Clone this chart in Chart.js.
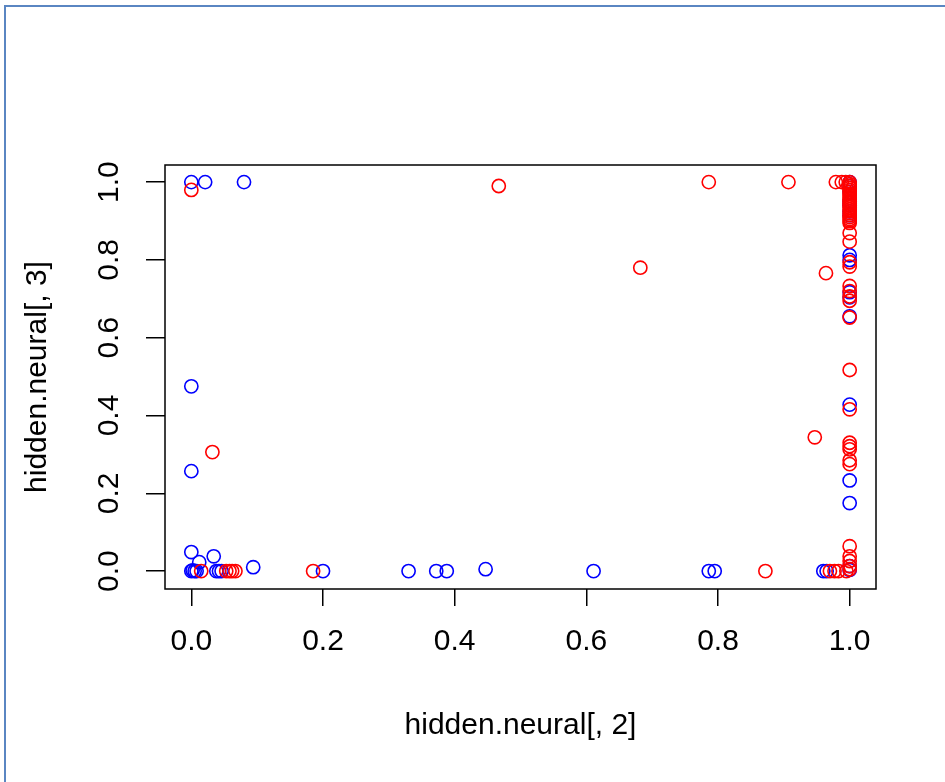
<!DOCTYPE html>
<html>
<head>
<meta charset="utf-8">
<script src="https://cdn.jsdelivr.net/npm/chart.js@4/dist/chart.umd.min.js"></script>
<style>
  body { margin: 0; background: #fff; }
  #frame { position: absolute; left: 4px; top: 5px; width: 945px; height: 782px;
           border-top: 2px solid #5a86c2; border-left: 2px solid #5a86c2; }
  #chart { position: absolute; left: 0; top: 0; }
</style>
</head>
<body>
<div id="frame"></div>
<canvas id="chart" width="945" height="782"></canvas>
<script>
// hidden.neural[, 2] vs hidden.neural[, 3], coloured by class
const tickVals = [0, 0.2, 0.4, 0.6, 0.8, 1.0];

const redX = [0.000, 0.015, 0.032, 0.053, 0.058, 0.062, 0.067, 0.185, 0.467, 0.682,
              0.786, 0.872, 0.907, 0.947, 0.964, 0.970, 0.977, 0.979, 0.983, 0.988,
              0.994, 0.995,
              1, 1, 1, 1, 1, 1, 1, 1, 1, 1, 1, 1, 1, 1, 1, 1, 1, 1, 1, 1, 1, 1,
              1, 1, 1, 1, 1, 1, 1, 1, 1, 1, 1, 1, 1, 1, 1, 1, 1, 1, 1, 1, 1];
const redY = [0.980, 0.000, 0.306, 0.000, 0.000, 0.000, 0.000, 0.000, 0.990, 0.780,
              1.000, 0.000, 1.000, 0.344, 0.766, 0.000, 0.000, 1.000, 0.000, 1.000,
              1.000, 0.000,
              1.000, 0.995, 0.990, 0.985, 0.980, 0.975, 0.970, 0.965, 0.960, 0.955,
              0.950, 0.945, 0.940, 0.935, 0.930, 0.925, 0.920, 0.915, 0.910, 0.905,
              0.900, 0.895, 0.869, 0.847, 0.794, 0.783, 0.733, 0.720, 0.706, 0.695,
              0.652, 0.517, 0.416, 0.330, 0.321, 0.313, 0.285, 0.275, 0.064, 0.038,
              0.026, 0.013, 0.005, 0.001, 0.000];

const blueX = [0.000, 0.021, 0.080, 0.000, 0.000, 0.000, 0.000, 0.002, 0.005, 0.008,
               0.012, 0.034, 0.038, 0.042, 0.046, 0.094, 0.200, 0.330, 0.372, 0.388,
               0.447, 0.611, 0.786, 0.795, 0.960, 0.965,
               1, 1, 1, 1, 1, 1, 1, 1, 1, 1, 1, 1, 1, 1, 1, 1, 1];
const blueY = [1.000, 1.000, 1.000, 0.475, 0.257, 0.049, 0.000, 0.002, 0.000, 0.000,
               0.023, 0.038, 0.000, 0.000, 0.000, 0.010, 0.000, 0.000, 0.000, 0.000,
               0.005, 0.000, 0.000, 0.000, 0.000, 0.000,
               1.000, 0.990, 0.975, 0.950, 0.940, 0.925, 0.915, 0.812, 0.800, 0.717,
               0.704, 0.655, 0.428, 0.233, 0.175, 0.013, 0.003];

const pts = (xs, ys) => xs.map((x, i) => ({x: x, y: ys[i]}));
const font = {family: '"Liberation Sans", Arial, sans-serif', size: 30};

// R draws a full box round the plot region
const boxPlugin = {
  id: 'box',
  afterDraw(chart) {
    const a = chart.chartArea, ctx = chart.ctx;
    ctx.save();
    ctx.strokeStyle = '#000';
    ctx.lineWidth = 1.5;
    ctx.strokeRect(a.left, a.top, a.right - a.left, a.bottom - a.top);
    ctx.restore();
  }
};

new Chart(document.getElementById('chart'), {
  type: 'scatter',
  data: {
    datasets: [
      {data: pts(redX, redY), borderColor: '#ff0000'},
      {data: pts(blueX, blueY), borderColor: '#0000ff'}
    ]
  },
  options: {
    responsive: false,
    animation: false,
    layout: {padding: {left: 0, top: 165, right: 69, bottom: 0}},
    elements: {point: {radius: 6.6, borderWidth: 1.6, backgroundColor: 'rgba(0,0,0,0)', pointStyle: 'circle'}},
    plugins: {legend: {display: false}, tooltip: {enabled: false}},
    scales: {
      x: {
        type: 'linear', min: -0.04, max: 1.04,
        afterBuildTicks: s => { s.ticks = tickVals.map(v => ({value: v})); },
        afterFit: s => { s.height = 193; },
        grid: {drawOnChartArea: false, drawTicks: true, tickLength: 17, color: '#000', lineWidth: 1.5},
        border: {display: false},
        ticks: {font: font, color: '#000', padding: 18, maxRotation: 0, autoSkip: false,
                callback: v => v.toFixed(1)},
        title: {display: true, text: 'hidden.neural[, 2]', font: font, color: '#000',
                padding: {top: 0, bottom: 38}}
      },
      y: {
        type: 'linear', min: -0.046, max: 1.044,
        afterBuildTicks: s => { s.ticks = tickVals.map(v => ({value: v})); },
        afterFit: s => { s.width = 165; },
        grid: {drawOnChartArea: false, drawTicks: true, tickLength: 19, color: '#000', lineWidth: 1.5},
        border: {display: false},
        ticks: {font: font, color: '#000', padding: 15, minRotation: 90, maxRotation: 90,
                crossAlign: 'center', autoSkip: false, callback: v => v.toFixed(1)},
        title: {display: true, text: 'hidden.neural[, 3]', font: font, color: '#000',
                padding: {top: 20, bottom: 0}}
      }
    }
  },
  plugins: [boxPlugin]
});
</script>
</body>
</html>
